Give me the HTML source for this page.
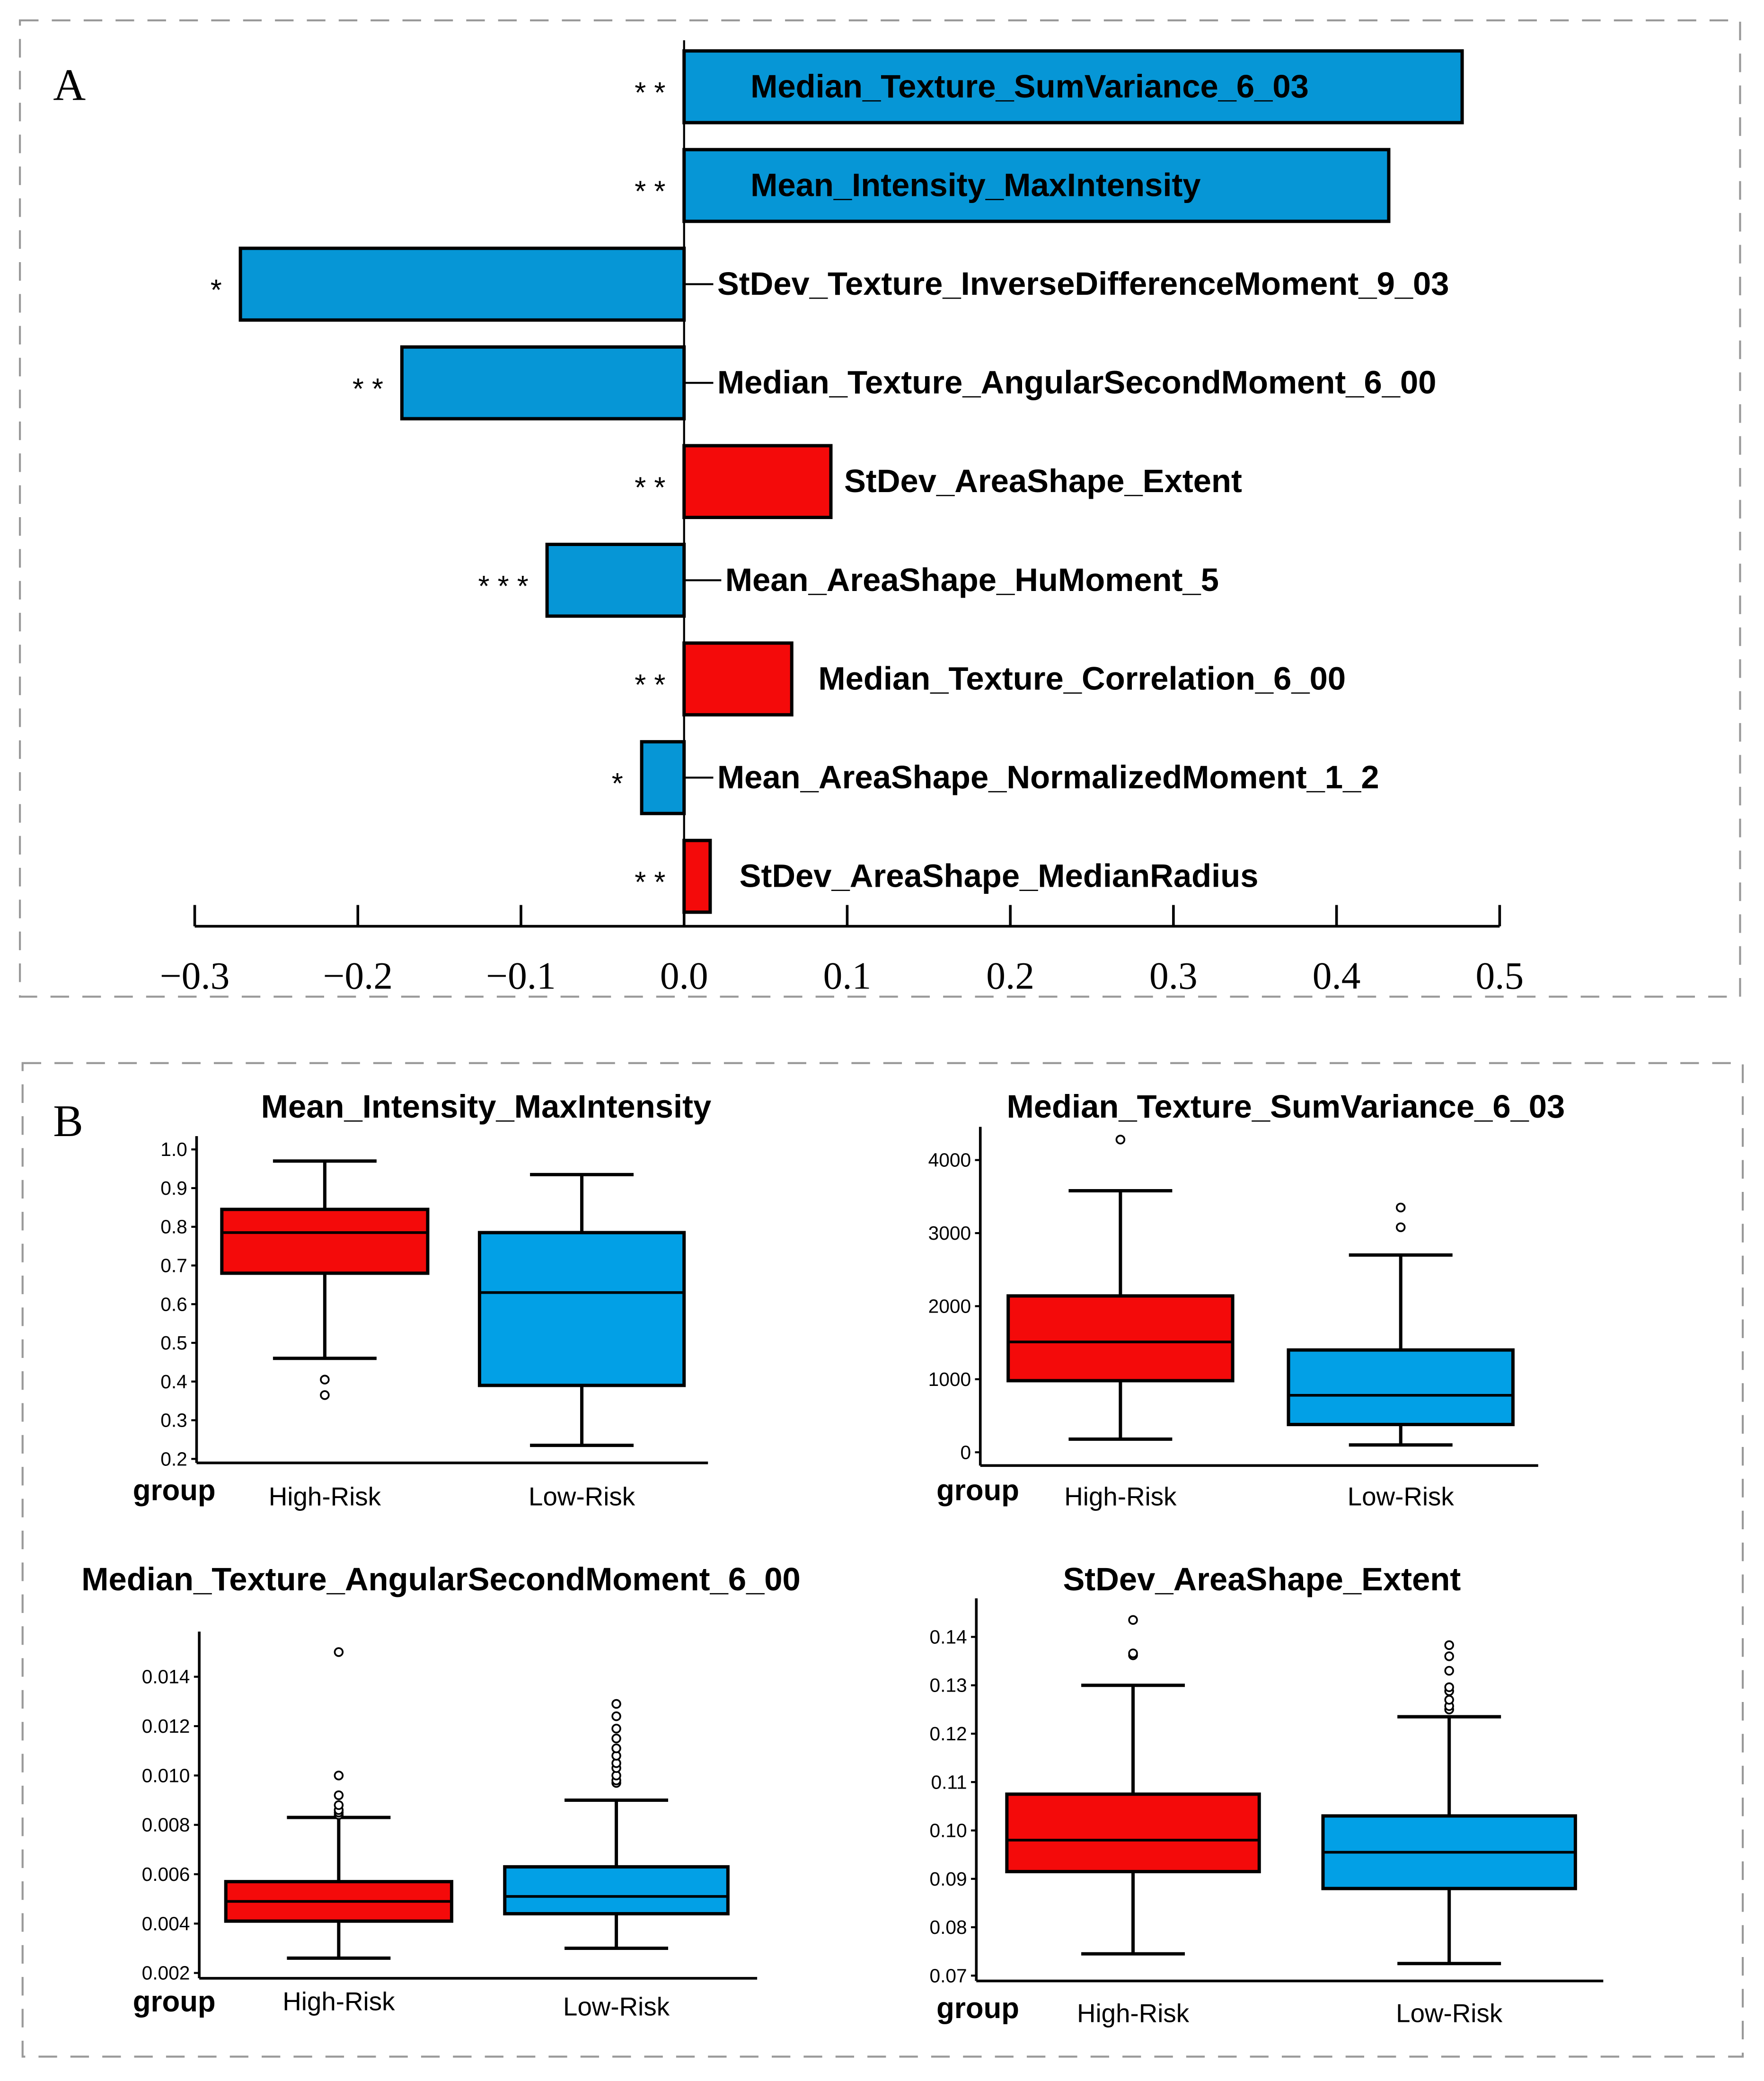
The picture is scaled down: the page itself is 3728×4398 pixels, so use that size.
<!DOCTYPE html>
<html><head><meta charset="utf-8">
<style>html,body{margin:0;padding:0;background:#fff;}svg{display:block}</style></head>
<body>
<svg id="fig" xmlns="http://www.w3.org/2000/svg" width="3728" height="4398" viewBox="0 0 1328 1566">
<rect x="0" y="0" width="1328" height="1566" fill="#fff"/>
<rect x="15" y="15" width="1295" height="735" fill="none" stroke="#999" stroke-width="1.5" stroke-dasharray="14,10"/>
<rect x="17" y="800" width="1295" height="748" fill="none" stroke="#999" stroke-width="1.5" stroke-dasharray="14,10"/>
<text x="40" y="75" font-family="Liberation Serif, serif" font-size="34">A</text>
<text x="40" y="855" font-family="Liberation Serif, serif" font-size="34">B</text>
<g id="gA"></g>
<g id="gB"></g>
</svg>
<script>
const featureNames = ["Median_Texture_SumVariance_6_03","Mean_Intensity_MaxIntensity","StDev_Texture_InverseDifferenceMoment_9_03","Median_Texture_AngularSecondMoment_6_00","StDev_AreaShape_Extent","Mean_AreaShape_HuMoment_5","Median_Texture_Correlation_6_00","Mean_AreaShape_NormalizedMoment_1_2","StDev_AreaShape_MedianRadius"];
const coefValues = [0.477,0.432,-0.272,-0.173,0.090,-0.084,0.066,-0.026,0.016];
const sigStars = ["* *","* *","*","* *","* *","* * *","* *","*","* *"];
const xTicks = [-0.3,-0.2,-0.1,0.0,0.1,0.2,0.3,0.4,0.5];
const xTickLabels = ["\u22120.3","\u22120.2","\u22120.1","0.0","0.1","0.2","0.3","0.4","0.5"];

const NS="http://www.w3.org/2000/svg";
function mk(tag, attrs, parent, text){const e=document.createElementNS(NS,tag);for(const k in attrs)e.setAttribute(k,attrs[k]);if(text!==undefined)e.textContent=text;parent.appendChild(e);return e;}

const gA=document.getElementById('gA');
const xA=v=>515+v*1228;
const yA=i=>38+i*74.3;
const barH=54;
const blue="#0696D6", red="#F40A0A";
coefValues.forEach((v,i)=>{
  const y=yA(i);
  const b=mk('rect',{x:Math.min(xA(0),xA(v)),y:y,width:Math.abs(xA(v)-xA(0)),height:barH,fill:blue,stroke:"#000","stroke-width":2.5},gA);
  if(v>0 && v<0.3) b.setAttribute('fill',red);
  
  
  let lx;
  if(v>0.3){lx=565;}
  else if(v>0){lx=xA(v)+10+ (v<0.05?12:(v<0.08?10:0));}
  else{lx=540+(v>-0.1&&v<-0.05?6:0);
    const ln=mk('line',{x1:xA(0),x2:lx-3,y1:y+barH/2,y2:y+barH/2,stroke:"#000","stroke-width":1.5},gA);
    
    }
  const t=mk('text',{x:lx,y:y+barH/2+8,"font-family":"Liberation Sans, sans-serif","font-size":24.5,"font-weight":"bold",fill:"#000"},gA,featureNames[i]);
  
  
  const sx=(v<0?xA(v):xA(0))-14;
  const s=mk('text',{x:sx,y:y+barH/2+12,"text-anchor":"end","font-family":"Liberation Sans, sans-serif","font-size":22,fill:"#000"},gA,sigStars[i]);
  
  
});
const zl=mk('line',{x1:xA(0),x2:xA(0),y1:30,y2:697,stroke:"#000","stroke-width":1.5},gA);


const ax=mk('line',{x1:xA(-0.3),x2:xA(0.5),y1:697,y2:697,stroke:"#000","stroke-width":2},gA);


xTicks.forEach((v,i)=>{
  const tk=mk('line',{x1:xA(v),x2:xA(v),y1:681,y2:697,stroke:"#000","stroke-width":2},gA);
  
  
  const tl=mk('text',{x:xA(v),y:744,"text-anchor":"middle","font-family":"Liberation Serif, serif","font-size":29},gA,xTickLabels[i]);
  
  
});

const groups = ["High-Risk","Low-Risk"];
const p1Title="Mean_Intensity_MaxIntensity";
const p1Ticks=[0.2,0.3,0.4,0.5,0.6,0.7,0.8,0.9,1.0];
const p1TickLabels=["0.2","0.3","0.4","0.5","0.6","0.7","0.8","0.9","1.0"];
const p1Stats=[[0.46,0.68,0.785,0.845,0.97],[0.235,0.39,0.63,0.785,0.935]];
const p1Outliers=[[0.405,0.365],[]];
const p2Title="Median_Texture_SumVariance_6_03";
const p2Ticks=[0,1000,2000,3000,4000];
const p2TickLabels=["0","1000","2000","3000","4000"];
const p2Stats=[[180,980,1510,2140,3580],[100,380,780,1400,2700]];
const p2Outliers=[[4280],[3080,3350]];
const p3Title="Median_Texture_AngularSecondMoment_6_00";
const p3Ticks=[0.002,0.004,0.006,0.008,0.010,0.012,0.014];
const p3TickLabels=["0.002","0.004","0.006","0.008","0.010","0.012","0.014"];
const p3Stats=[[0.0026,0.0041,0.0049,0.0057,0.0083],[0.003,0.0044,0.0051,0.0063,0.009]];
const p3Outliers=[[0.0084,0.0085,0.0086,0.0088,0.0092,0.0100,0.0150],[0.0097,0.0098,0.0100,0.0103,0.0105,0.0108,0.0111,0.0115,0.0119,0.0124,0.0129]];
const p4Title="StDev_AreaShape_Extent";
const p4Ticks=[0.07,0.08,0.09,0.10,0.11,0.12,0.13,0.14];
const p4TickLabels=["0.07","0.08","0.09","0.10","0.11","0.12","0.13","0.14"];
const p4Stats=[[0.0745,0.0915,0.098,0.1075,0.13],[0.0725,0.088,0.0955,0.103,0.1235]];
const p4Outliers=[[0.1362,0.1366,0.1435],[0.125,0.1257,0.127,0.1288,0.1296,0.133,0.136,0.1383]];

const gB=document.getElementById('gB');
function boxplot(cfg){
  const {title,ticks,tickLabels,stats,outliers,axX,axTop,axBot,axRight,v0,y0,v1,y1,boxes,titleX,titleY,catY,groupPos}=cfg;
  const yS=v=>y0+(v-v0)*(y1-y0)/(v1-v0);
  const t=mk('text',{x:titleX,y:titleY,"text-anchor":"middle","font-family":"Liberation Sans, sans-serif","font-size":24.5,"font-weight":"bold"},gB,title);
  
  
  const ya=mk('line',{x1:axX,x2:axX,y1:axTop,y2:axBot,stroke:"#000","stroke-width":2},gB);
  
  
  const xa=mk('line',{x1:axX,x2:axRight,y1:axBot,y2:axBot,stroke:"#000","stroke-width":2},gB);
  
  
  ticks.forEach((v,i)=>{
    const tk=mk('line',{x1:axX-4,x2:axX,y1:yS(v),y2:yS(v),stroke:"#000","stroke-width":1.5},gB);
    
    
    const tl=mk('text',{x:axX-7,y:yS(v)+5,"text-anchor":"end","font-family":"Liberation Sans, sans-serif","font-size":14.5},gB,tickLabels[i]);
    
    
  });
  const cols=["#F40A0A","#02A0E6"];
  stats.forEach((s,i)=>{
    const [l,r]=boxes[i];const c=(l+r)/2;
    const w=mk('line',{x1:c,x2:c,y1:yS(s[0]),y2:yS(s[4]),stroke:"#000","stroke-width":2.5},gB);
    
    
    [s[0],s[4]].forEach(v=>{
      const cap=mk('line',{x1:c-39,x2:c+39,y1:yS(v),y2:yS(v),stroke:"#000","stroke-width":2.5},gB);
      
      
    });
    const b=mk('rect',{x:l,y:yS(s[3]),width:r-l,height:yS(s[1])-yS(s[3]),fill:cols[i],stroke:"#000","stroke-width":2.5},gB);
    
    
    const m=mk('line',{x1:l,x2:r,y1:yS(s[2]),y2:yS(s[2]),stroke:"#000","stroke-width":2},gB);
    
    
    outliers[i].forEach(v=>{
      const o=mk('circle',{cx:c,cy:yS(v),r:3,fill:"#fff",stroke:"#000","stroke-width":1.3},gB);
      
      
    });
    const cl=mk('text',{x:c,y:catY[i],"text-anchor":"middle","font-family":"Liberation Sans, sans-serif","font-size":19.5},gB,groups[i]);
    
    
  });
  const g=mk('text',{x:groupPos[0],y:groupPos[1],"font-family":"Liberation Sans, sans-serif","font-size":22,"font-weight":"bold"},gB,"group");
  
  
}
boxplot({title:p1Title,ticks:p1Ticks,tickLabels:p1TickLabels,stats:p1Stats,outliers:p1Outliers,axX:148,axTop:855,axBot:1101,axRight:533,v0:0.2,y0:1098,v1:1.0,y1:865,boxes:[[167,322],[361,515]],titleX:366,titleY:841,catY:[1133,1133],groupPos:[100,1129]});
boxplot({title:p2Title,ticks:p2Ticks,tickLabels:p2TickLabels,stats:p2Stats,outliers:p2Outliers,axX:738,axTop:848,axBot:1103,axRight:1158,v0:0,y0:1093,v1:4000,y1:873,boxes:[[759,928],[970,1139]],titleX:968,titleY:841,catY:[1133,1133],groupPos:[705,1129]});
boxplot({title:p3Title,ticks:p3Ticks,tickLabels:p3TickLabels,stats:p3Stats,outliers:p3Outliers,axX:150,axTop:1228,axBot:1489,axRight:570,v0:0.002,y0:1485,v1:0.014,y1:1262,boxes:[[170,340],[380,548]],titleX:332,titleY:1197,catY:[1513,1517],groupPos:[100,1514]});
boxplot({title:p4Title,ticks:p4Ticks,tickLabels:p4TickLabels,stats:p4Stats,outliers:p4Outliers,axX:735,axTop:1203,axBot:1491,axRight:1207,v0:0.07,y0:1487,v1:0.14,y1:1232,boxes:[[758,948],[996,1186]],titleX:950,titleY:1197,catY:[1522,1522],groupPos:[705,1519]});
</script>
</body></html>
